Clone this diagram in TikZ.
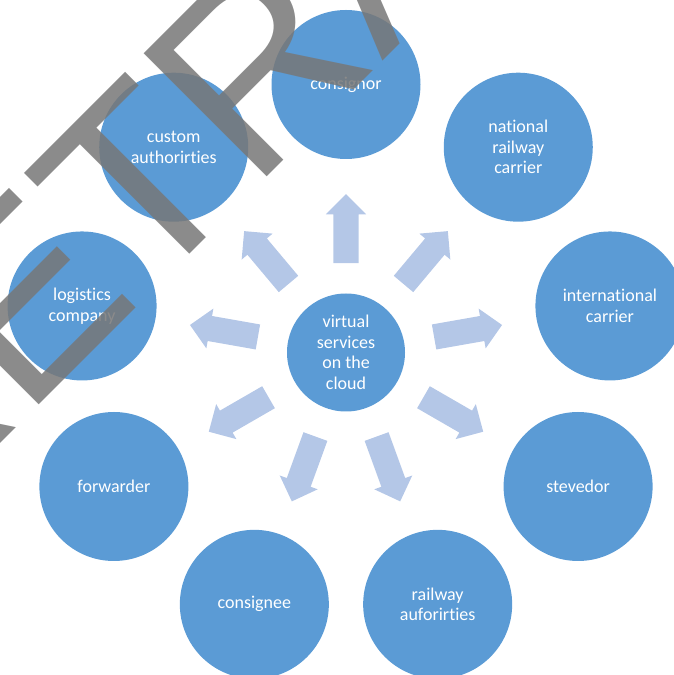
\documentclass[tikz,border=0pt]{standalone}
\usepackage{fontspec}
\setmainfont{Carlito}[Ligatures=NoCommon]
\newfontfamily\wmfont{Liberation Sans}
\usetikzlibrary{calc,shapes.arrows}
\definecolor{bubblue}{HTML}{5B9BD5}
\definecolor{arrblue}{HTML}{B4C7E7}
\definecolor{wmgray}{HTML}{777777}
\tikzset{bub/.style={circle,fill=bubblue,minimum size=149pt,inner sep=0pt,text=white,align=center,font=\fontsize{18}{20.5}\selectfont}}
\tikzset{fat/.style={single arrow,fill=arrblue,minimum height=69pt,inner xsep=0pt,inner ysep=12.5pt,single arrow head extend=7.5pt,anchor=tail}}

\begin{document}
\begin{tikzpicture}[x=1pt,y=1pt]
% \draw[help lines,step=50] (0,0) grid (674,675);
\useasboundingbox (0,0) rectangle (674,675);
\node (hub) [bub,minimum size=118pt] at (346,322.5) {virtual\\services\\on the\\cloud};
%
\node (cnor) [bub] at ($(hub)+(90:268)$) {consignor};
\node (nrc) [bub] at ($(hub)+(50:268)$) {national\\railway\\carrier};
\node (intc) [bub] at ($(hub)+(10:268)$) {international\\carrier};
\node (stev) [bub] at ($(hub)+(-30:268)$) {stevedor};
\node (rauth) [bub] at ($(hub)+(-70:268)$) {railway\\auforirties};
\node (cnee) [bub] at ($(hub)+(-110:268)$) {consignee};
\node (fwd) [bub] at ($(hub)+(-150:268)$) {forwarder};
\node (logc) [bub] at ($(hub)+(170:268)$) {logistics\\company};
\node (cust) [bub] at ($(hub)+(130:268)$) {custom\\authorirties};
%
\node (ar1) [fat,rotate=90] at ($(hub)!0.333!(cnor)$) {};
\node (ar2) [fat,rotate=50] at ($(hub)!0.333!(nrc)$) {};
\node (ar3) [fat,rotate=10] at ($(hub)!0.333!(intc)$) {};
\node (ar4) [fat,rotate=-30] at ($(hub)!0.333!(stev)$) {};
\node (ar5) [fat,rotate=-70] at ($(hub)!0.333!(rauth)$) {};
\node (ar6) [fat,rotate=-110] at ($(hub)!0.333!(cnee)$) {};
\node (ar7) [fat,rotate=-150] at ($(hub)!0.333!(fwd)$) {};
\node (ar8) [fat,rotate=170] at ($(hub)!0.333!(logc)$) {};
\node (ar9) [fat,rotate=130] at ($(hub)!0.333!(cust)$) {};
%
\node (wm) [anchor=base west,rotate=45,inner sep=0pt,text=wmgray,opacity=0.85,font=\wmfont\fontsize{253}{253}\selectfont] at (-105,126) {RETRACTED};
\end{tikzpicture}
\end{document}
